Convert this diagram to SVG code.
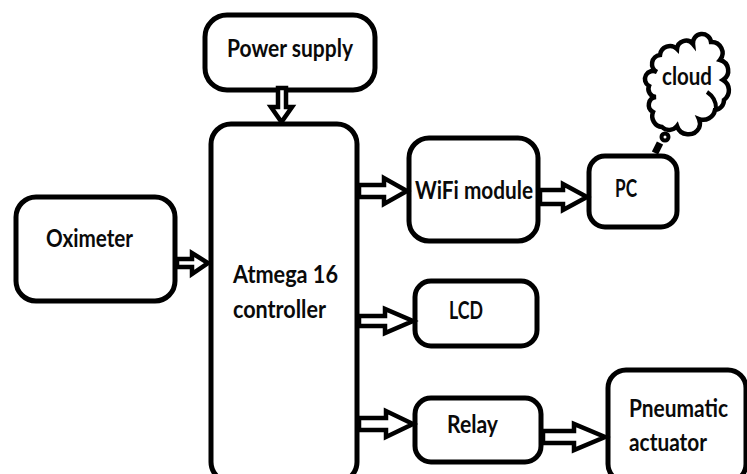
<svg xmlns="http://www.w3.org/2000/svg" width="747" height="474" viewBox="0 0 747 474">
<style>
.b{fill:#fff;stroke:#000;stroke-width:5}
.a{fill:#fff;stroke:#000;stroke-width:4.500;stroke-linejoin:miter}
text{font-family:"Lato","Liberation Sans",sans-serif;font-weight:700;font-size:24px;fill:#0a0a0a}
</style>
<rect width="747" height="474" fill="#fff"/>
<g id="power"><rect class="b" x="205" y="15" width="170" height="75" rx="22"/><text x="227" y="57" textLength="126" lengthAdjust="spacingAndGlyphs">Power supply</text></g>
<g id="controller"><rect class="b" x="211" y="124" width="146" height="358" rx="20"/><text x="233" y="283" textLength="105" lengthAdjust="spacingAndGlyphs">Atmega 16</text><text x="233" y="318" textLength="93" lengthAdjust="spacingAndGlyphs">controller</text></g>
<g id="oximeter"><rect class="b" x="16" y="197" width="159" height="104" rx="20"/><text x="46" y="247" textLength="87" lengthAdjust="spacingAndGlyphs">Oximeter</text></g>
<g id="wifi"><rect class="b" x="409" y="138" width="129" height="103" rx="20"/><text x="415" y="199" textLength="118" lengthAdjust="spacingAndGlyphs">WiFi module</text></g>
<g id="pc"><rect class="b" x="589" y="156" width="88" height="71" rx="16"/><text x="615" y="197" textLength="22" lengthAdjust="spacingAndGlyphs">PC</text></g>
<g id="lcd"><rect class="b" x="415" y="281" width="122" height="65" rx="16"/><text x="449" y="319" textLength="34" lengthAdjust="spacingAndGlyphs">LCD</text></g>
<g id="relay"><rect class="b" x="415" y="398" width="126" height="64" rx="16"/><text x="447" y="433" textLength="51" lengthAdjust="spacingAndGlyphs">Relay</text></g>
<g id="actuator"><rect class="b" x="608" y="370" width="138" height="112" rx="18"/><text x="629" y="417" textLength="99" lengthAdjust="spacingAndGlyphs">Pneumatic</text><text x="629" y="451" textLength="78" lengthAdjust="spacingAndGlyphs">actuator</text></g>
<g id="cloud">
<path d="M660,55 A10,10 0 0 1 677,49 A9,9 0 0 1 693,44 A9,9 0 0 1 711,42 A11,11 0 0 1 720,60 A11,11 0 0 1 723,80 A12,12 0 0 1 724,100 A10,10 0 0 1 715,110 A12,12 0 0 1 699,119 A11,11 0 0 1 699,128 A12,12 0 0 1 677,126 A10,10 0 0 1 662,127 A11,11 0 0 1 653,112 A8,8 0 0 1 656,97 A8,8 0 0 1 649,86 A8,8 0 0 1 657,72 A9,9 0 0 1 660,55 Z" fill="#fff" stroke="#000" stroke-width="4.500"/>
<path d="M707,92 Q716,98 716,108" fill="none" stroke="#000" stroke-width="4"/>
<circle cx="665" cy="137" r="3.500" fill="#fff" stroke="#000" stroke-width="4"/>
<path d="M660,143 L655,153" stroke="#000" stroke-width="7" fill="none"/>
<text x="662" y="85" textLength="50" lengthAdjust="spacingAndGlyphs">cloud</text>
</g>
<g id="connectors">
<polygon class="a" points="278,88 286,88 286,107 292,107 281.500,122 271,107 278,107"/>
<polygon class="a" points="177,259 192,259 192,253 208,263 192,274 192,267 177,267"/>
<polygon class="a" points="359,185 384,185 384,178 407,191 384,204 384,197 359,197"/>
<polygon class="a" points="540,190 563,190 563,184 587,197 563,210 563,204 540,204"/>
<polygon class="a" points="359,316 385,316 385,309 413,321 385,333 385,326 359,326"/>
<polygon class="a" points="359,418 386,418 386,411 413,424 386,437 386,430 359,430"/>
<polygon class="a" points="543,431 574,431 574,424 605,437 574,450 574,443 543,443"/>
</g>
</svg>
